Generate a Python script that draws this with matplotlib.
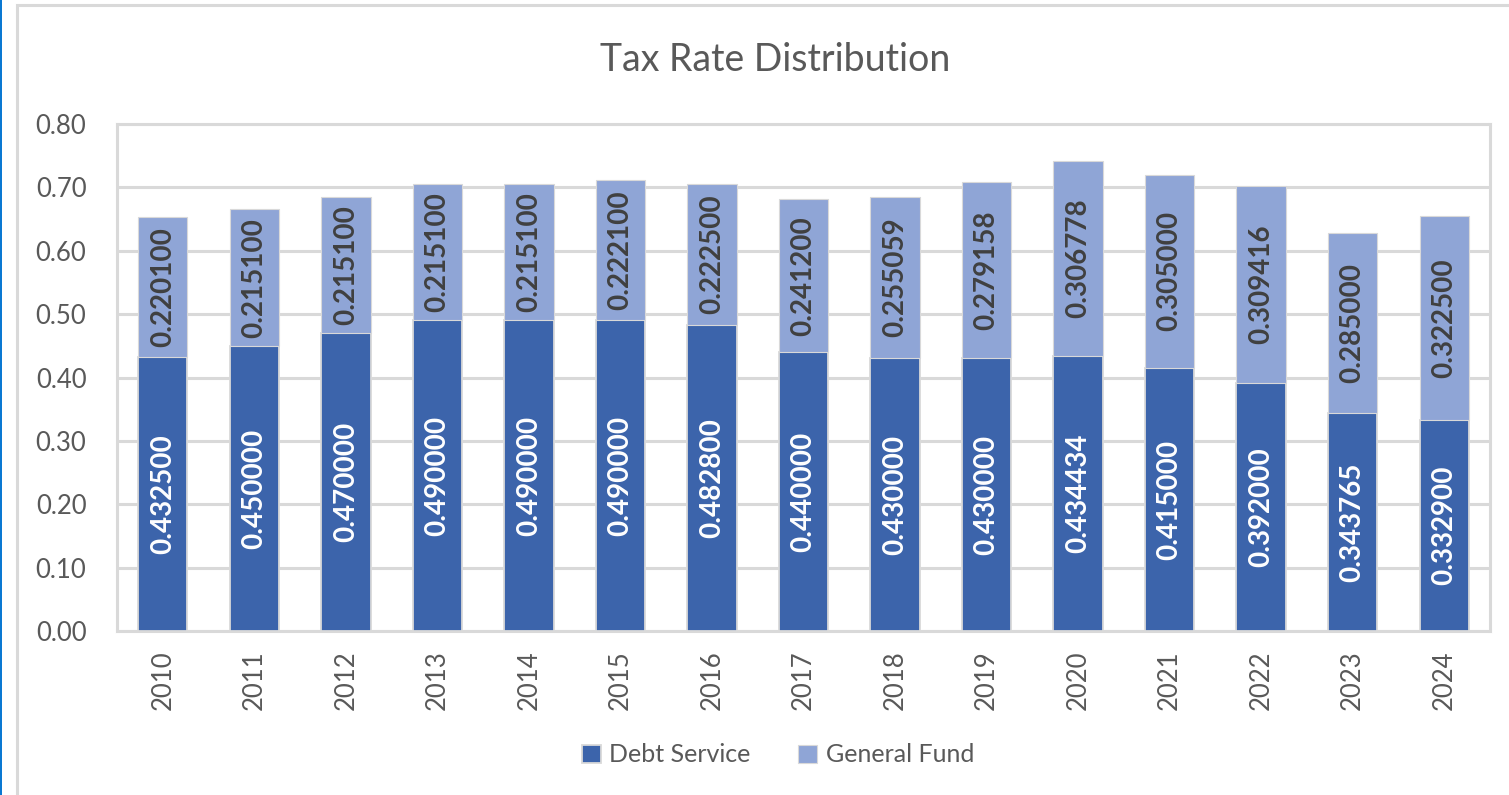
import matplotlib.pyplot as plt
from matplotlib.patches import Rectangle
import numpy as np

years = ['2010', '2011', '2012', '2013', '2014', '2015', '2016', '2017',
         '2018', '2019', '2020', '2021', '2022', '2023', '2024']
debt_service = [0.4325, 0.45, 0.47, 0.49, 0.49, 0.49, 0.4828, 0.44,
                0.43, 0.43, 0.434434, 0.415, 0.392, 0.343765, 0.3329]
general_fund = [0.2201, 0.2151, 0.2151, 0.2151, 0.2151, 0.2221, 0.2225, 0.2412,
                0.255059, 0.279158, 0.306778, 0.305, 0.309416, 0.285, 0.3225]
y_ticks = [0.0, 0.1, 0.2, 0.3, 0.4, 0.5, 0.6, 0.7, 0.8]

dark_blue = '#3c64ab'
light_blue = '#8fa5d6'
text_gray = '#595959'
grid_gray = '#d9d9d9'

plt.rcParams['font.family'] = ['Lato', 'DejaVu Sans']

fig = plt.figure(figsize=(15.09, 7.95), dpi=100)
ax = fig.add_axes([117 / 1509, 1 - 631 / 795, (1490 - 117) / 1509, (631 - 124) / 795])

# outer chart frame and the blue selection edge on the left
fig.patches.append(Rectangle((16.5 / 1509, -0.1), 1.2, 1 - 4.5 / 795 + 0.1,
                             transform=fig.transFigure, fill=False,
                             edgecolor=grid_gray, linewidth=2.2))
fig.patches.append(Rectangle((0, 0), 2 / 1509, 1, transform=fig.transFigure,
                             facecolor='#0a78d2', edgecolor='none'))

x = np.arange(len(years))
width = 0.54
b1 = ax.bar(x, debt_service, width, color=dark_blue, edgecolor=grid_gray,
            linewidth=1.3, label='Debt Service', zorder=3)
b2 = ax.bar(x, general_fund, width, bottom=debt_service, color=light_blue,
            edgecolor=grid_gray, linewidth=0.8, label='General Fund', zorder=3)

for i in range(len(years)):
    ax.text(x[i], debt_service[i] / 2, '%.6f' % debt_service[i], rotation=90,
            ha='center', va='center', color='white', fontsize=20,
            fontweight='bold', zorder=4)
    ax.text(x[i], debt_service[i] + general_fund[i] / 2, '%.6f' % general_fund[i],
            rotation=90, ha='center', va='center', color='#404040', fontsize=20,
            fontweight='bold', zorder=4)

ax.set_xlim(-0.5, len(years) - 0.5)
ax.set_ylim(0, 0.8)
ax.set_yticks(y_ticks)
ax.set_yticklabels(['%.2f' % v for v in y_ticks])
ax.set_xticks(x)
ax.set_xticklabels(years, rotation=90)
ax.tick_params(axis='y', length=0, pad=22, labelsize=18.5, labelcolor=text_gray)
ax.tick_params(axis='x', length=0, pad=14, labelsize=18.5, labelcolor=text_gray)
ax.yaxis.grid(True, color=grid_gray, linewidth=2.2, zorder=0)
ax.set_axisbelow(True)
for s in ax.spines.values():
    s.set_color(grid_gray)
    s.set_linewidth(2.2)

fig.text(775 / 1509, 1 - 60 / 795, 'Tax Rate Distribution', ha='center',
         va='center', fontsize=27, color=text_gray)

fig.legend(handles=[b1, b2], loc='center', bbox_to_anchor=(778 / 1509, 1 - 755 / 795),
           ncol=2, frameon=False, fontsize=18, labelcolor=text_gray,
           handlelength=0.75, handleheight=0.75, handletextpad=0.35, columnspacing=1.9)

fig.savefig('out.png', dpi=100)
